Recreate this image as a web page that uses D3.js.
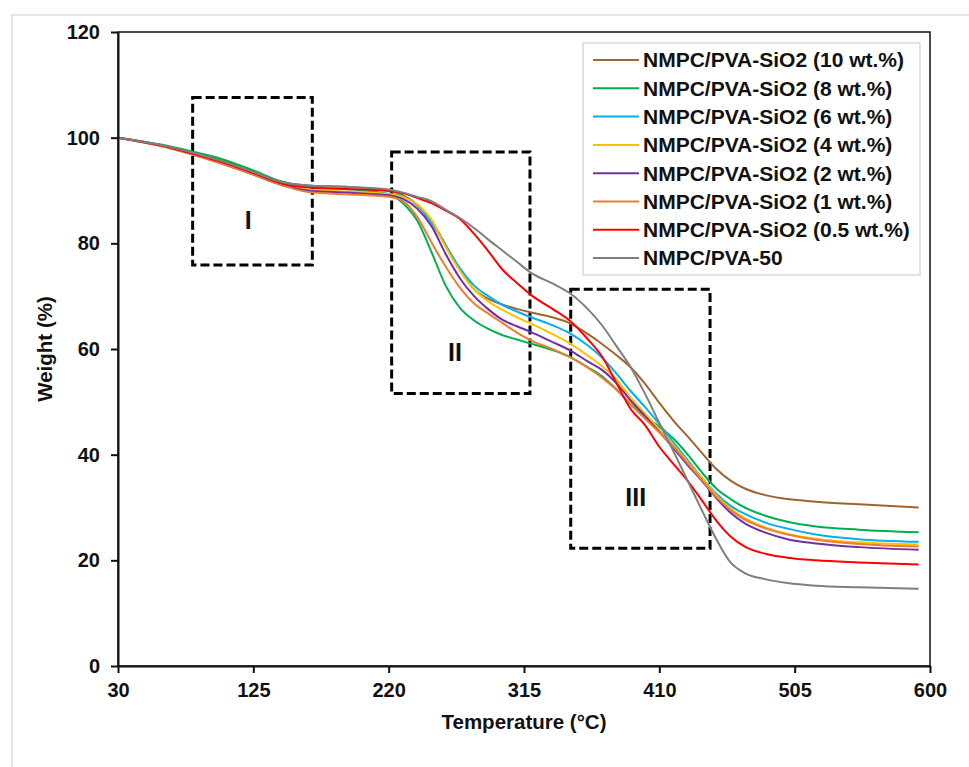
<!DOCTYPE html>
<html>
<head>
<meta charset="utf-8">
<script src="https://cdn.jsdelivr.net/npm/d3@7"></script>
<style>
  body { margin: 0; background: #fff; }
  svg { display: block; font-family: "Liberation Sans", Arial, sans-serif; }
  .axis text { font-size: 20px; font-weight: bold; fill: #111; }
  .axis path, .axis line { stroke: #111; stroke-width: 2; }
</style>
</head>
<body>
<svg id="chart" width="969" height="767"></svg>
<script>
(function(){

	// temperatures (°C) sampled for every curve
	var temps = [30, 60, 82, 100, 125, 145, 166, 190, 220, 230, 240, 250, 260, 270, 280, 290, 300, 310, 320, 335, 347, 360, 370, 380, 390, 400, 410, 420, 430, 440, 450, 460, 470, 485, 500, 520, 550, 592];

	// weight (%)
	var wt10 = [100, 98.6, 97.2, 95.9, 93.5, 91.6, 90.9, 90.7, 90.0, 89.1, 87.3, 84.3, 79.7, 75.0, 71.3, 69.5, 68.4, 67.6, 66.9, 66.0, 64.9, 62.8, 60.9, 58.8, 56.5, 53.4, 49.8, 46.4, 43.4, 40.3, 37.3, 35.1, 33.6, 32.3, 31.6, 31.1, 30.6, 30.0];
	var wt8 = [100, 98.7, 97.4, 96.2, 93.8, 91.7, 90.6, 90.3, 89.3, 87.6, 84.3, 78.4, 72.0, 67.8, 65.4, 63.8, 62.6, 61.8, 61.0, 59.8, 58.5, 56.5, 54.8, 52.3, 49.5, 47.2, 45.3, 43.0, 40.0, 36.6, 33.6, 31.6, 30.0, 28.4, 27.3, 26.4, 25.8, 25.3];
	var wt6 = [100, 98.5, 96.9, 95.4, 93.0, 91.0, 89.9, 89.7, 89.4, 88.9, 87.2, 84.0, 79.6, 75.3, 72.0, 70.0, 68.3, 67.1, 66.0, 64.5, 63.0, 60.6, 58.3, 55.3, 52.0, 49.0, 45.8, 42.3, 38.9, 35.6, 32.6, 30.3, 28.8, 27.1, 26.0, 24.9, 24.0, 23.5];
	var wt4 = [100, 98.5, 97.0, 95.5, 93.2, 91.2, 90.1, 89.8, 89.3, 88.8, 87.4, 84.5, 79.3, 74.8, 71.3, 69.0, 67.4, 66.0, 64.8, 62.8, 61.1, 58.7, 56.7, 54.2, 50.8, 47.8, 44.8, 41.8, 38.6, 35.5, 32.3, 29.8, 28.0, 26.2, 25.0, 24.1, 23.4, 23.0];
	var wt2 = [100, 98.5, 96.9, 95.4, 93.1, 91.1, 89.9, 89.6, 89.1, 88.4, 86.6, 83.3, 78.0, 73.4, 70.0, 67.5, 65.5, 64.3, 63.2, 61.3, 59.8, 57.6, 56.0, 53.5, 50.2, 47.3, 44.3, 41.2, 38.0, 35.0, 31.8, 29.0, 27.0, 25.2, 24.0, 23.2, 22.5, 22.0];
	var wt1 = [100, 98.4, 96.8, 95.3, 93.0, 91.0, 89.6, 89.3, 88.8, 88.0, 85.0, 80.2, 75.6, 71.6, 68.6, 66.7, 64.9, 63.1, 61.6, 60.0, 58.5, 56.4, 54.5, 52.3, 49.5, 46.8, 44.2, 41.5, 38.3, 35.2, 32.0, 29.5, 27.7, 26.0, 24.9, 23.9, 23.1, 22.6];
	var wt05 = [100, 98.5, 97.0, 95.6, 93.3, 91.3, 90.5, 90.3, 89.9, 89.5, 88.6, 87.6, 86.2, 84.6, 81.8, 78.5, 75.0, 72.5, 70.2, 67.6, 65.4, 61.8, 58.5, 53.5, 48.6, 45.6, 41.5, 38.2, 35.0, 31.3, 27.5, 24.5, 22.6, 21.2, 20.5, 20.0, 19.6, 19.2];
	var wt50 = [100, 98.6, 97.2, 95.8, 93.5, 91.6, 90.9, 90.7, 90.2, 89.6, 88.8, 88.0, 86.4, 84.8, 82.9, 80.7, 78.6, 76.5, 74.4, 72.4, 70.6, 67.5, 64.4, 60.5, 56.5, 51.5, 46.0, 40.6, 35.0, 29.4, 24.0, 19.6, 17.6, 16.4, 15.7, 15.2, 14.9, 14.6];

	var seriesNames = ["NMPC/PVA-SiO2 (10 wt.%)", "NMPC/PVA-SiO2 (8 wt.%)", "NMPC/PVA-SiO2 (6 wt.%)", "NMPC/PVA-SiO2 (4 wt.%)", "NMPC/PVA-SiO2 (2 wt.%)", "NMPC/PVA-SiO2 (1 wt.%)", "NMPC/PVA-SiO2 (0.5 wt.%)", "NMPC/PVA-50"];
	var seriesValues = [wt10, wt8, wt6, wt4, wt2, wt1, wt05, wt50];
	var colors = ["#a0652e", "#00b050", "#00b0f0", "#ffc000", "#7030a0", "#ed7d31", "#ff0000", "#7f7f7f"];

	var xTicks = [30, 125, 220, 315, 410, 505, 600];
	var yTicks = [0, 20, 40, 60, 80, 100, 120];

	// dashed regions: [T start, T end, W low, W high]
	var regionNames = ["I", "II", "III"];
	var regionBoxes = [[82.4, 166.4, 75.9, 107.6], [222.1, 319.2, 51.6, 97.3], [347.8, 445.6, 22.3, 71.3]];
	var regionLabels = [[121.5, 84.4], [266.6, 59.4], [393.4, 32]];

	var margin = {top: 32, right: 39, bottom: 101, left: 118};
	var svg = d3.select("#chart");
	var width = +svg.attr("width") - margin.left - margin.right;
	var height = +svg.attr("height") - margin.top - margin.bottom;

	// faint outer chart border
	svg.append("path")
		.attr("d", "M12,767V15H969")
		.attr("fill", "none")
		.attr("stroke", "#dedede")
		.attr("stroke-width", 1.5);

	var g = svg.append("g")
		.attr("transform", "translate(" + margin.left + "," + margin.top + ")");

	var x = d3.scaleLinear().domain([30, 600]).range([0, width]);
	var y = d3.scaleLinear().domain([0, 120]).range([height, 0]);

	g.append("rect")
		.attr("width", width)
		.attr("height", height)
		.attr("fill", "none")
		.attr("stroke", "#111")
		.attr("stroke-width", 1.5);

	// dashed boxes
	g.selectAll(".region")
		.data(regionBoxes)
		.enter().append("rect")
			.attr("class", "region")
			.attr("x", function(d){ return x(d[0]); })
			.attr("y", function(d){ return y(d[3]); })
			.attr("width", function(d){ return x(d[1]) - x(d[0]); })
			.attr("height", function(d){ return y(d[2]) - y(d[3]); })
			.attr("fill", "none")
			.attr("stroke", "#000")
			.attr("stroke-width", 3)
			.attr("stroke-dasharray", "9,4");

	g.selectAll(".region-label")
		.data(regionLabels)
		.enter().append("text")
			.attr("class", "region-label")
			.attr("x", function(d){ return x(d[0]); })
			.attr("y", function(d){ return y(d[1]); })
			.attr("dy", "0.36em")
			.attr("text-anchor", "middle")
			.style("font-size", "25px")
			.style("font-weight", "bold")
			.attr("fill", "#111")
			.text(function(d, i){ return regionNames[i]; });

	var line = d3.line()
		.x(function(d){ return x(d[0]); })
		.y(function(d){ return y(d[1]); })
		.curve(d3.curveMonotoneX);

	g.selectAll(".curve")
		.data(seriesValues)
		.enter().append("path")
			.attr("class", "curve")
			.attr("d", function(vals){
				return line(temps.map(function(t, i){ return [t, vals[i]]; }));
			})
			.attr("fill", "none")
			.attr("stroke", function(d, i){ return colors[i]; })
			.attr("stroke-width", 2);

	g.append("g")
		.attr("class", "axis axis-x")
		.attr("transform", "translate(0," + height + ")")
		.call(d3.axisBottom(x).tickValues(xTicks).tickSize(7).tickSizeOuter(0).tickPadding(10));

	g.append("g")
		.attr("class", "axis axis-y")
		.call(d3.axisLeft(y).tickValues(yTicks).tickSize(7).tickSizeOuter(0).tickPadding(11));

	svg.append("text")
		.text("Temperature (°C)")
		.attr("x", margin.left + width / 2)
		.attr("y", 729)
		.attr("text-anchor", "middle")
		.style("font-size", "20.5px")
		.style("font-weight", "bold")
		.attr("fill", "#111");

	svg.append("text")
		.text("Weight (%)")
		.attr("transform", "translate(52," + (margin.top + height / 2) + ") rotate(-90)")
		.attr("text-anchor", "middle")
		.style("font-size", "20.5px")
		.style("font-weight", "bold")
		.attr("fill", "#111");

	// legend
	var legend = svg.append("g")
		.attr("transform", "translate(583,43)");

	legend.append("rect")
		.attr("width", 337)
		.attr("height", 232)
		.attr("fill", "#fff")
		.attr("stroke", "#d9d9d9")
		.attr("stroke-width", 1.5);

	var item = legend.selectAll(".item")
		.data(seriesNames)
		.enter().append("g")
			.attr("class", "item")
			.attr("transform", function(d, i){ return "translate(0," + (17 + i * 28.3) + ")"; });

	item.append("line")
		.attr("x1", 10)
		.attr("x2", 56)
		.attr("stroke", function(d, i){ return colors[i]; })
		.attr("stroke-width", 2);

	item.append("text")
		.attr("x", 60)
		.attr("dy", "0.35em")
		.style("font-size", "21px")
		.style("font-weight", "bold")
		.attr("fill", "#111")
		.text(function(d){ return d; });

})();
</script>
</body>
</html>
